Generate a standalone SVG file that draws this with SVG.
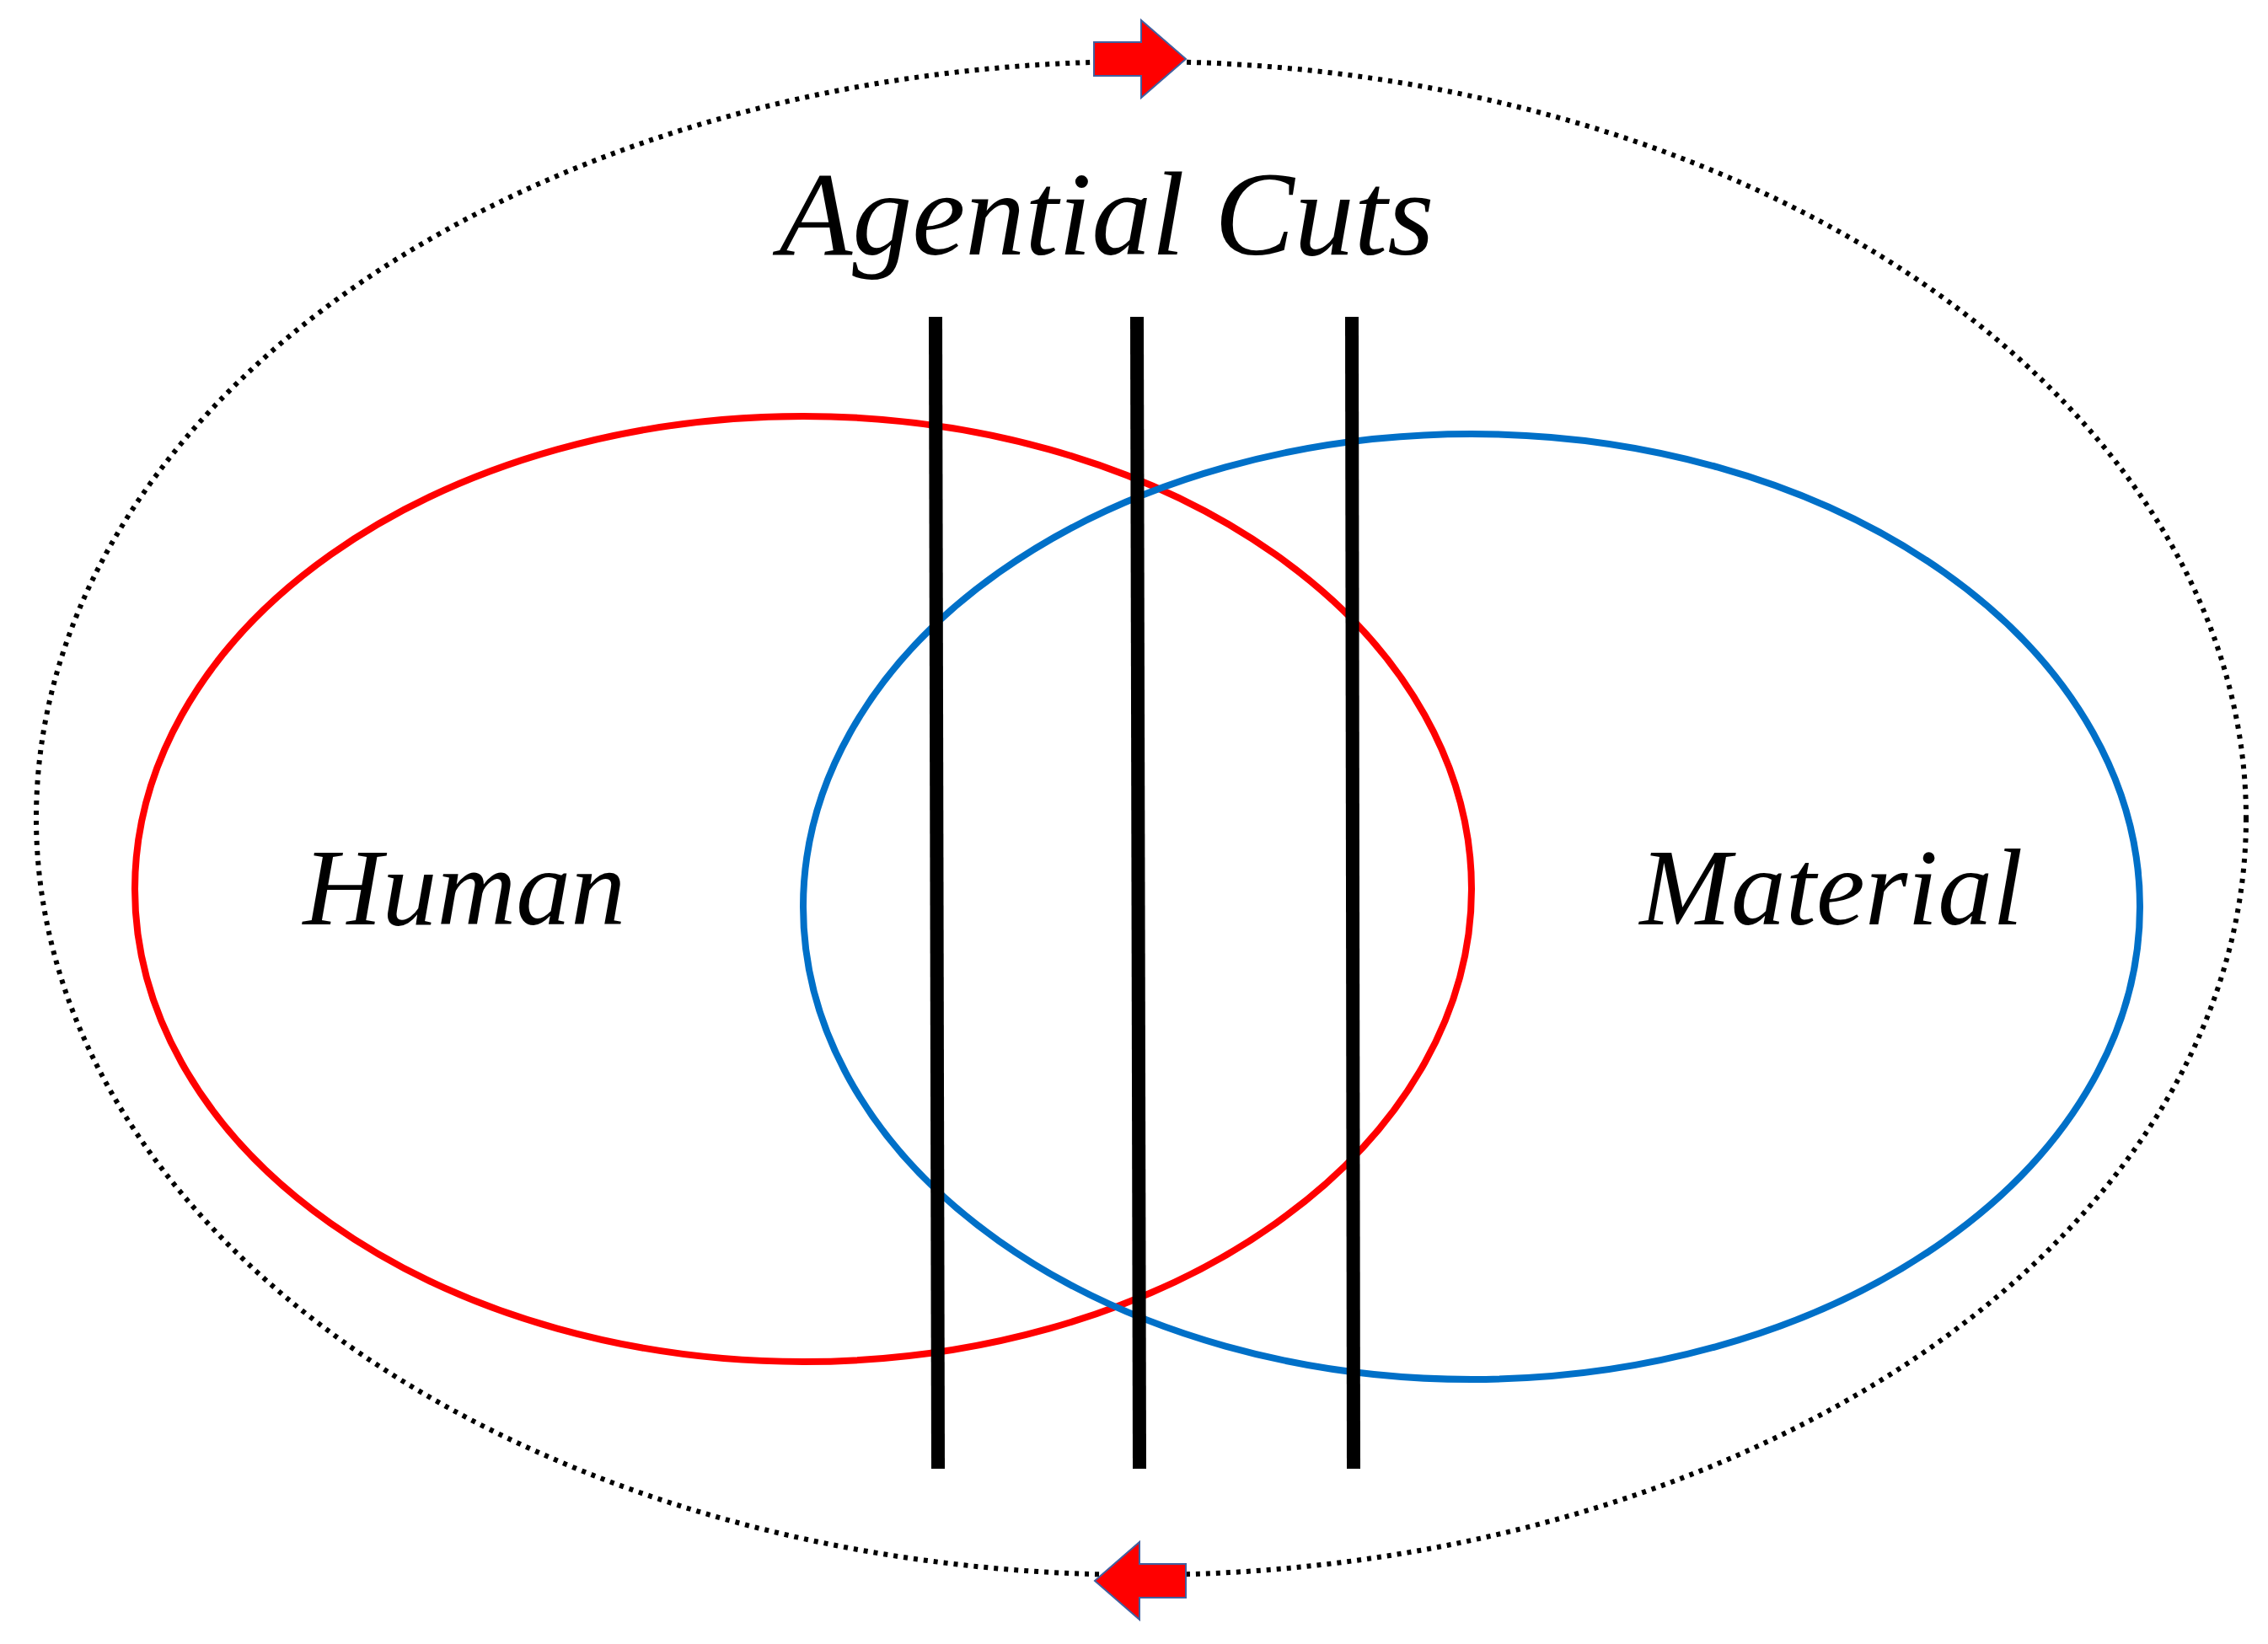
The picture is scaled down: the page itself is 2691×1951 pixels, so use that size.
<svg xmlns="http://www.w3.org/2000/svg" width="2691" height="1951" viewBox="0 0 2691 1951">
<style>
.lbl{font-family:"Liberation Serif",serif;font-style:italic;fill:#000}
.cut{stroke:#000;stroke-width:16}
.arr{fill:#ff0000;stroke:#4060a0;stroke-width:2}
</style>
<rect width="2691" height="1951" fill="#fff"/>
<g id="outer"><ellipse cx="1354" cy="971" rx="1311" ry="898" fill="none" stroke="#000" stroke-width="6" stroke-dasharray="5 7"/></g>
<g id="human"><ellipse cx="953" cy="1055" rx="793" ry="561" fill="none" stroke="#ff0000" stroke-width="8"/>
<text class="lbl" x="551" y="1097" font-size="130" text-anchor="middle">Human</text></g>
<g id="material"><ellipse cx="1746" cy="1076" rx="793" ry="561" fill="none" stroke="#0070c8" stroke-width="8"/>
<text class="lbl" x="2173" y="1097" font-size="130" text-anchor="middle">Material</text></g>
<g id="cuts">
<line class="cut" x1="1110" y1="376" x2="1113" y2="1743"/>
<line class="cut" x1="1349" y1="376" x2="1352" y2="1743"/>
<line class="cut" x1="1604" y1="376" x2="1606" y2="1743"/>
<text class="lbl" x="1313" y="302" font-size="142" text-anchor="middle">Agential Cuts</text>
</g>
<g id="connectors">
<polygon class="arr" points="1298,50 1354,50 1354,24 1407,70 1354,116 1354,90 1298,90"/>
<polygon class="arr" points="1407,1856 1352,1856 1352,1830 1299,1876 1352,1922 1352,1896 1407,1896"/>
</g>
</svg>
